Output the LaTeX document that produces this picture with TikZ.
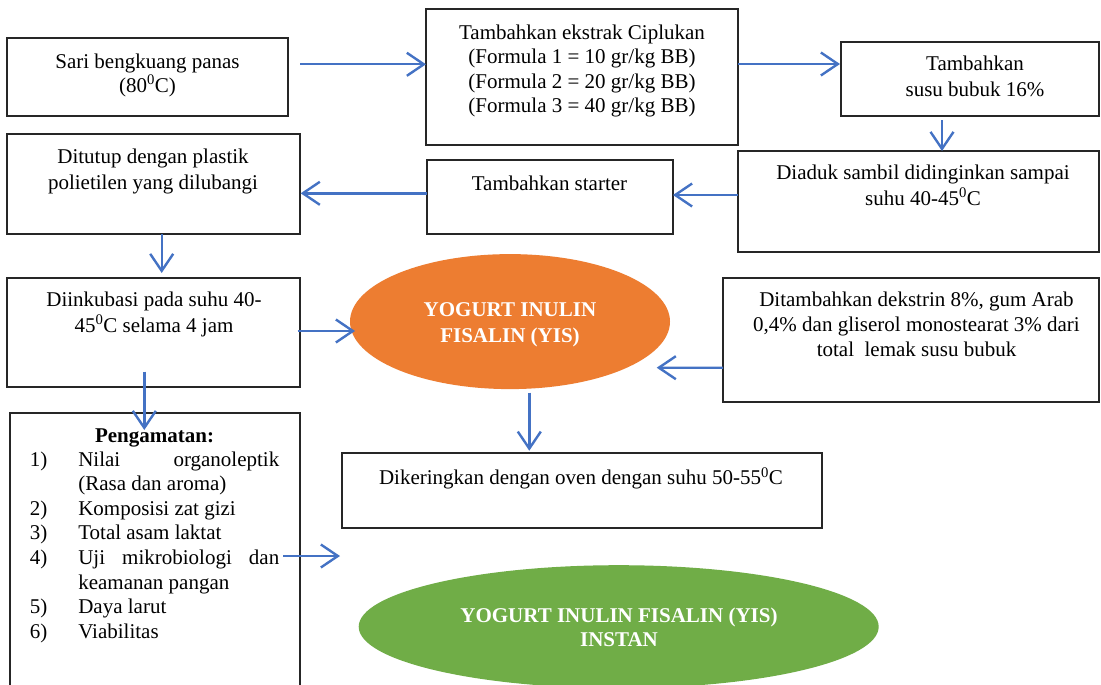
\documentclass[tikz,border=0pt]{standalone}
\usepackage{fontspec}
\setmainfont{Liberation Serif}
\usetikzlibrary{arrows.meta,shapes.geometric,calc}
\definecolor{arrblue}{HTML}{4472C4}
\definecolor{ellorange}{HTML}{ED7D31}
\definecolor{ellgreen}{HTML}{70AD47}
\newcommand\toprl{\rule{0pt}{16pt}}
\begin{document}
\begin{tikzpicture}[x=1pt,y=-1pt,
  box/.style={draw=black!85, line width=1.2pt, inner sep=0pt, outer sep=0pt},
  txt/.style={font=\fontsize{21}{24.5}\selectfont, inner sep=0pt, outer sep=0pt, align=center, text=black},
  ell/.style={ellipse, inner sep=0pt, outer sep=0pt, draw=none},
  arr/.style={draw=arrblue, line width=2.4pt, -{Straight Barb[length=17pt,width=23pt]}}]
\useasboundingbox (0,0) rectangle (1101,685);
\fill[white] (0,0) rectangle (1101,685);
\clip (0,0) rectangle (1101,685);

% boxes
\node[box, minimum width=281pt, minimum height=78pt] (b1) at (147.5,77) {};
\node[box, minimum width=312pt, minimum height=136pt] (b2) at (582,77) {};
\node[box, minimum width=258pt, minimum height=74pt] (b3) at (970,79) {};
\node[box, minimum width=361pt, minimum height=101pt] (b4) at (918.5,201.5) {};
\node[box, minimum width=246pt, minimum height=74pt] (b5) at (550,197) {};
\node[box, minimum width=293pt, minimum height=100pt] (b6) at (153.5,184) {};
\node[box, minimum width=293pt, minimum height=109pt] (b7) at (153.5,332.5) {};
\node[box, minimum width=290pt, minimum height=277pt] (b8) at (155,551.5) {};
\node[box, minimum width=480pt, minimum height=75pt] (b10) at (582,490.5) {};
\node[box, minimum width=376pt, minimum height=124pt] (b11) at (911,340) {};
\node[ell, fill=ellorange, minimum width=320pt, minimum height=135pt] (e1) at (510,321.6) {};
\node[ell, fill=ellgreen, minimum width=520pt, minimum height=123pt] (e2) at (618.7,626.7) {};

% texts
\node[txt, anchor=north] (t1) at (147.5,52) {\toprl Sari bengkuang panas\\(80\textsuperscript{0}C)};
\node[txt, anchor=north] (t2) at (582,23) {\toprl Tambahkan ekstrak Ciplukan\\(Formula 1 = 10 gr/kg BB)\\(Formula 2 = 20 gr/kg BB)\\(Formula 3 = 40 gr/kg BB)};
\node[txt, anchor=north, font=\fontsize{21}{26}\selectfont] (t3) at (975,54) {\toprl Tambahkan\\susu bubuk 16\%};
\node[txt, anchor=north, font=\fontsize{21}{26}\selectfont] (t4) at (923,163) {\toprl Diaduk sambil didinginkan sampai\\suhu 40-45\textsuperscript{0}C};
\node[txt, anchor=north] (t5) at (549.5,174.3) {\toprl Tambahkan starter};
\node[txt, anchor=north, font=\fontsize{21}{26}\selectfont] (t6) at (153,147) {\toprl Ditutup dengan plastik\\polietilen yang dilubangi};
\node[txt, anchor=north, font=\fontsize{21}{26.5}\selectfont] (t7) at (154,290) {\toprl Diinkubasi pada suhu 40-\\45\textsuperscript{0}C selama 4 jam};
\node[txt, anchor=north, text=white, font=\fontsize{21}{26}\selectfont\bfseries] (t9) at (510,300) {\toprl YOGURT INULIN\\FISALIN (YIS)};
\node[txt, anchor=north] (t10) at (581,467.3) {\toprl Dikeringkan dengan oven dengan suhu 50-55\textsuperscript{0}C};
\node[txt, anchor=north, font=\fontsize{21}{25.3}\selectfont] (t11) at (916.5,290) {\toprl Ditambahkan dekstrin 8\%, gum Arab\\0,4\% dan gliserol monostearat 3\% dari\\total\ \ lemak susu bubuk};
\node[txt, anchor=north, text=white, font=\fontsize{21}{24.5}\selectfont\bfseries] (t12) at (619,606) {\toprl YOGURT INULIN FISALIN (YIS)\\INSTAN};

% Pengamatan list
\node[txt, anchor=base, font=\fontsize{21}{24.5}\selectfont\bfseries] (t8) at (154.5,442.7) {Pengamatan:};
\node[txt, anchor=base west] (n1) at (30,466) {1)};
\node[txt, anchor=base west] (i1) at (78.3,466) {\makebox[201pt][s]{Nilai organoleptik}};
\node[txt, anchor=base west] (i1b) at (78.3,490.6) {(Rasa dan aroma)};
\node[txt, anchor=base west] (n2) at (30,515.2) {2)};
\node[txt, anchor=base west] (i2) at (78.3,515.2) {Komposisi zat gizi};
\node[txt, anchor=base west] (n3) at (30,539.8) {3)};
\node[txt, anchor=base west] (i3) at (78.3,539.8) {Total asam laktat};
\node[txt, anchor=base west] (n4) at (30,564.4) {4)};
\node[txt, anchor=base west] (i4) at (78.3,564.4) {\makebox[201pt][s]{Uji mikrobiologi dan}};
\node[txt, anchor=base west] (i4b) at (78.3,589) {keamanan pangan};
\node[txt, anchor=base west] (n5) at (30,613.6) {5)};
\node[txt, anchor=base west] (i5) at (78.3,613.6) {Daya larut};
\node[txt, anchor=base west] (n6) at (30,638.2) {6)};
\node[txt, anchor=base west] (i6) at (78.3,638.2) {Viabilitas};

% connectors
\coordinate (c9) at (340,556);
\draw[arr] ($(b1.north east)+(12,26.3)$) -- ($(b2.north west)+(0,55.3)$);
\draw[arr] ($(b2.north east)+(0,55)$) -- ($(b3.north west)+(-1,22)$);
\draw[arr] ($(b3.south west)+(101,4)$) -- ($(b4.north west)+(204,0)$);
\draw[arr] ($(b4.north west)+(0,44)$) -- ($(b5.north east)+(0,35)$);
\draw[arr] ($(b5.north west)+(0,33.3)$) -- ($(b6.north east)+(0.7,59.3)$);
\draw[arr] ($(b6.south west)+(154.7,0)$) -- ($(b7.north west)+(154.7,-5)$);
\draw[arr] ($(b7.north east)+(-2.3,53)$) -- ($(e1.west)+(5,9.4)$);
\draw[arr] ($(b7.south west)+(137.3,-15.3)$) -- ($(b8.north west)+(134.3,17)$);
\draw[arr] ($(b8.north east)+(-17,143)$) -- (c9);
\draw[arr] ($(e1.south)+(19.3,3.5)$) -- ($(b10.north west)+(187.3,-2.3)$);
\draw[arr] ($(b11.north west)+(0,89.7)$) -- ($(e1.east)+(-13.3,46.1)$);
\end{tikzpicture}
\end{document}
